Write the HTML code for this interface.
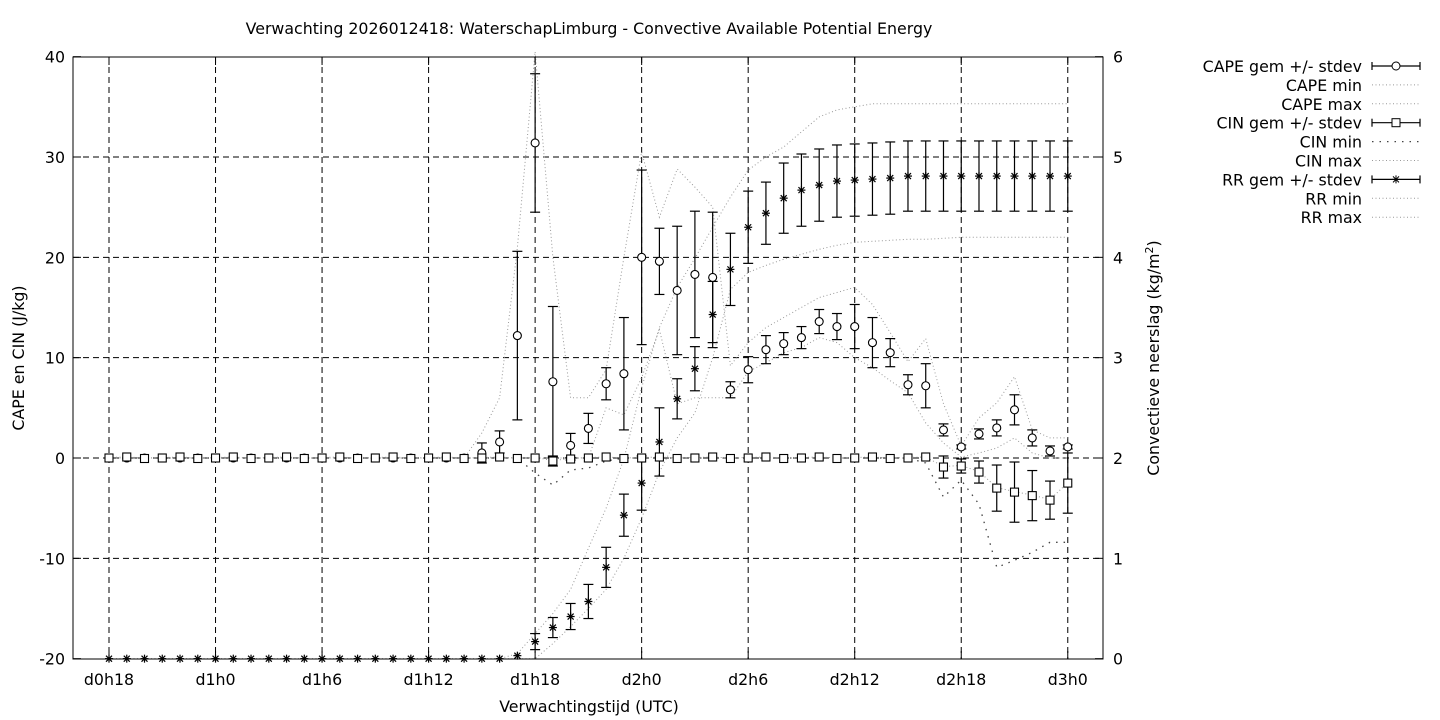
<!DOCTYPE html>
<html><head><meta charset="utf-8"><style>
html,body{margin:0;padding:0;background:#fff}
svg{display:block;font-family:"DejaVu Sans","Liberation Sans",sans-serif}
</style></head><body>
<svg id="s" width="1440" height="720" xmlns="http://www.w3.org/2000/svg">
<rect width="1440" height="720" fill="#fff"/>
<g id="grid" stroke="#000" stroke-width="1" stroke-dasharray="6,4" fill="none"></g>
<g id="data"></g>
<rect x="73" y="57" width="1030" height="602" fill="none" stroke="#000" stroke-width="1"/>
<g id="ticks" stroke="#000" stroke-width="1"></g>
<g id="labels" font-size="15.8" fill="#000"></g>
<text x="589" y="34" font-size="15.8" text-anchor="middle">Verwachting 2026012418: WaterschapLimburg - Convective Available Potential Energy</text>
<text x="589" y="712" font-size="15.8" text-anchor="middle">Verwachtingstijd (UTC)</text>
<text transform="translate(24,358) rotate(-90)" font-size="15.8" text-anchor="middle">CAPE en CIN (J/kg)</text>
<text transform="translate(1159,358) rotate(-90)" font-size="15.8" text-anchor="middle">Convectieve neerslag (kg/m<tspan font-size="11" dy="-6">2</tspan><tspan dy="6">)</tspan></text>
<g id="legend" font-size="15.8"></g>
</svg>
<script>
var NS="http://www.w3.org/2000/svg";
function el(p,t,a,txt){var e=document.createElementNS(NS,t);for(var k in a)e.setAttribute(k,a[k]);if(txt!=null)e.textContent=txt;p.appendChild(e);return e;}
function X(i){return 109+i*17.755;}
function Y(c){return 458-c*10.033;}
function YR(r){return Y(r*10-20);}
var grid=document.getElementById('grid'),ticks=document.getElementById('ticks'),lab=document.getElementById('labels'),data=document.getElementById('data');
[-10,0,10,20,30].forEach(function(v){el(grid,'line',{x1:73,x2:1103,y1:Y(v),y2:Y(v)});});
var xl=['d0h18','d1h0','d1h6','d1h12','d1h18','d2h0','d2h6','d2h12','d2h18','d3h0'];
xl.forEach(function(t,k){var x=X(k*6);el(grid,'line',{x1:x,x2:x,y1:57,y2:659});
 el(ticks,'line',{x1:x,x2:x,y1:659,y2:651});el(ticks,'line',{x1:x,x2:x,y1:57,y2:65});
 el(lab,'text',{x:x,y:685,'text-anchor':'middle'},t);});
[-20,-10,0,10,20,30,40].forEach(function(v){var y=Y(v);el(ticks,'line',{x1:73,x2:81,y1:y,y2:y});
 el(lab,'text',{x:65,y:y+6,'text-anchor':'end'},String(v));});
for(var r=0;r<=6;r++){var y=YR(r);el(ticks,'line',{x1:1095,x2:1103,y1:y,y2:y});el(lab,'text',{x:1113,y:y+6},String(r));}

var N=55;
function fill(a,from,to,v){for(var i=from;i<=to;i++)a[i]=v;}
var capeM=[],capeS=[];fill(capeM,0,20,0);fill(capeS,0,20,0);
var cm={21:[0.5,1],22:[1.6,1.1],23:[12.2,8.4],24:[31.4,6.9],25:[7.6,7.5],26:[1.25,1.2],27:[2.95,1.5],28:[7.4,1.6],29:[8.4,5.6],30:[20,8.7],31:[19.6,3.3],32:[16.7,6.4],33:[18.3,6.3],34:[18,6.5],35:[6.8,0.8],36:[8.8,1.3],37:[10.8,1.4],38:[11.4,1.1],39:[12,1.1],40:[13.6,1.2],41:[13.1,1.3],42:[13.1,2.2],43:[11.5,2.5],44:[10.5,1.4],45:[7.3,1],46:[7.2,2.2],47:[2.8,0.6],48:[1.1,0.2],49:[2.4,0.5],50:[3,0.8],51:[4.8,1.5],52:[2,0.8],53:[0.7,0.5],54:[1.1,0.2]};
for(var k in cm){capeM[k]=cm[k][0];capeS[k]=cm[k][1];}
var capeMax=[];fill(capeMax,0,20,0);
var cx={21:2.5,22:6,23:21,24:40.5,25:20,26:6,27:6,28:8.8,29:20,30:30.5,31:24,32:28.8,33:27,34:25,35:9.2,36:11.5,37:13,38:14,39:15,40:16,41:16.5,42:17,43:15.3,44:12.5,45:9.6,46:11.9,47:5.4,48:1.2,49:4,50:5.5,51:8.1,52:2.8,53:2,54:2};
for(var k in cx)capeMax[k]=cx[k];
var capeMin=[];fill(capeMin,0,27,0);
var cn={28:5,29:4.3,30:8,31:12.8,32:5.4,33:6,34:6,35:6,36:8.6,37:9.5,38:10.5,39:11,40:12,41:11.5,42:10,43:9,44:7.7,45:6.5,46:3.5,47:1.5,48:0.1,49:0.5,50:1,51:2,52:0.5,53:0,54:0};
for(var k in cn)capeMin[k]=cn[k];
var cinM=[],cinS=[];for(var i=0;i<N;i++){cinM[i]=(i%3==1?0.1:(i%3==2?-0.05:0));cinS[i]=0;}
var ci={25:[-0.3,0.5],26:[-0.1,0.1],47:[-0.9,1.1],48:[-0.8,0.7],49:[-1.4,1.1],50:[-3,2.3],51:[-3.4,3],52:[-3.75,2.5],53:[-4.2,1.9],54:[-2.5,3]};
for(var k in ci){cinM[k]=ci[k][0];cinS[k]=ci[k][1];}
var cinMin=[];fill(cinMin,0,23,0);
var cim={24:-1.5,25:-2.7,26:-1.2,27:-1,28:-0.3,29:0,46:-0.5,47:-3.9,48:-2.2,49:-4.6,50:-10.9,51:-10.2,52:-9.4,53:-8.4,54:-8.4};
for(var i=29;i<46;i++)cinMin[i]=0;for(var k in cim)cinMin[k]=cim[k];
var rrM=[],rrS=[];fill(rrM,0,22,0);fill(rrS,0,22,0);
var rm={23:[0.03,0],24:[0.17,0.08],25:[0.31,0.1],26:[0.42,0.13],27:[0.57,0.17],28:[0.91,0.2],29:[1.43,0.21],30:[1.75,0.27],31:[2.16,0.34],32:[2.59,0.2],33:[2.89,0.22],34:[3.43,0.33],35:[3.88,0.36],36:[4.3,0.36],37:[4.44,0.31],38:[4.59,0.35],39:[4.67,0.36],40:[4.72,0.36],41:[4.76,0.36],42:[4.77,0.36],43:[4.78,0.36],44:[4.79,0.36]};
for(var i=45;i<N;i++){rrM[i]=4.81;rrS[i]=0.35;}
for(var k in rm){rrM[k]=rm[k][0];rrS[k]=rm[k][1];}
var rrMax=[];fill(rrMax,0,22,0);
var rx={23:0.05,24:0.25,25:0.45,26:0.69,27:1.1,28:1.5,29:1.99,30:2.7,31:3.3,32:3.7,33:3.99,34:4.3,35:4.6,36:4.87,37:5.0,38:5.1,39:5.25,40:5.4,41:5.47,42:5.5};
for(var i=43;i<N;i++)rrMax[i]=5.53;for(var k in rx)rrMax[k]=rx[k];
var rrMin=[];fill(rrMin,0,24,0);
var rn={25:0.15,26:0.32,27:0.5,28:0.69,29:1.0,30:1.4,31:1.86,32:2.2,33:2.45,34:3.0,35:3.68,36:3.85,37:3.92,38:3.98,39:4.03,40:4.08,41:4.12,42:4.15,43:4.16,44:4.17,45:4.18,46:4.18,47:4.19};
for(var i=48;i<N;i++)rrMin[i]=4.2;for(var k in rn)rrMin[k]=rn[k];

function poly(arr,fy,style){var p=[];for(var i=0;i<N;i++)p.push(X(i).toFixed(1)+','+fy(arr[i]).toFixed(1));
 var a={points:p.join(' '),fill:'none'};for(var k in style)a[k]=style[k];el(data,'polyline',a);}
var light={stroke:'#999','stroke-width':1,'stroke-dasharray':'1,2.5'};
var dark={stroke:'#444','stroke-width':1.3,'stroke-dasharray':'1.5,6'};
poly(capeMin,Y,light);poly(capeMax,Y,light);
poly(cinMin,Y,dark);poly(cinM.map(function(v){return Math.min(0.1,v+0.05);}),Y,light);
poly(rrMin,YR,light);poly(rrMax,YR,light);
function errbar(x,y1,y2){if(Math.abs(y2-y1)<1)return;el(data,'line',{x1:x,x2:x,y1:y1,y2:y2,stroke:'#000','stroke-width':1.2});
 el(data,'line',{x1:x-5,x2:x+5,y1:y1,y2:y1,stroke:'#000','stroke-width':1.2});el(data,'line',{x1:x-5,x2:x+5,y1:y2,y2:y2,stroke:'#000','stroke-width':1.2});}
function star(x,y){var g=el(data,'g',{stroke:'#000','stroke-width':1.2});
 el(g,'line',{x1:x-4,x2:x+4,y1:y,y2:y});el(g,'line',{x1:x,x2:x,y1:y-4,y2:y+4});
 el(g,'line',{x1:x-3,x2:x+3,y1:y-3,y2:y+3});el(g,'line',{x1:x-3,x2:x+3,y1:y+3,y2:y-3});}
for(var i=0;i<N;i++){var x=X(i);
 errbar(x,YR(rrM[i]+rrS[i]),YR(rrM[i]-rrS[i]));star(x,YR(rrM[i]));
 errbar(x,Y(capeM[i]+capeS[i]),Y(capeM[i]-capeS[i]));el(data,'circle',{cx:x,cy:Y(capeM[i]),r:4,fill:'#fff',stroke:'#000','stroke-width':1.1});
 errbar(x,Y(cinM[i]+cinS[i]),Y(cinM[i]-cinS[i]));el(data,'rect',{x:x-4,y:Y(cinM[i])-4,width:8,height:8,fill:'#fff',stroke:'#000','stroke-width':1.1});}
var lg=document.getElementById('legend');
var items=[['CAPE gem +/- stdev','c'],['CAPE min','l'],['CAPE max','l'],['CIN gem +/- stdev','s'],['CIN min','d'],['CIN max','l'],['RR gem +/- stdev','x'],['RR min','l'],['RR max','l']];
items.forEach(function(it,k){var y=66+k*18.9;el(lg,'text',{x:1362,y:y+6,'text-anchor':'end'},it[0]);
 if(it[1]=='l'||it[1]=='d'){var s=it[1]=='l'?light:dark;var a={x1:1372,x2:1420,y1:y,y2:y};for(var q in s)a[q]=s[q];el(lg,'line',a);}
 else{el(lg,'line',{x1:1372,x2:1420,y1:y,y2:y,stroke:'#000','stroke-width':1.2});
  el(lg,'line',{x1:1372,x2:1372,y1:y-4,y2:y+4,stroke:'#000','stroke-width':1.2});el(lg,'line',{x1:1420,x2:1420,y1:y-4,y2:y+4,stroke:'#000','stroke-width':1.2});
  if(it[1]=='c')el(lg,'circle',{cx:1396,cy:y,r:4,fill:'#fff',stroke:'#000'});
  if(it[1]=='s')el(lg,'rect',{x:1392,y:y-4,width:8,height:8,fill:'#fff',stroke:'#000'});
  if(it[1]=='x'){var g=el(lg,'g',{stroke:'#000'});el(g,'line',{x1:1392,x2:1400,y1:y,y2:y});el(g,'line',{x1:1396,x2:1396,y1:y-4,y2:y+4});el(g,'line',{x1:1393,x2:1399,y1:y-3,y2:y+3});el(g,'line',{x1:1393,x2:1399,y1:y+3,y2:y-3});}
 }});
</script>
</body></html>
